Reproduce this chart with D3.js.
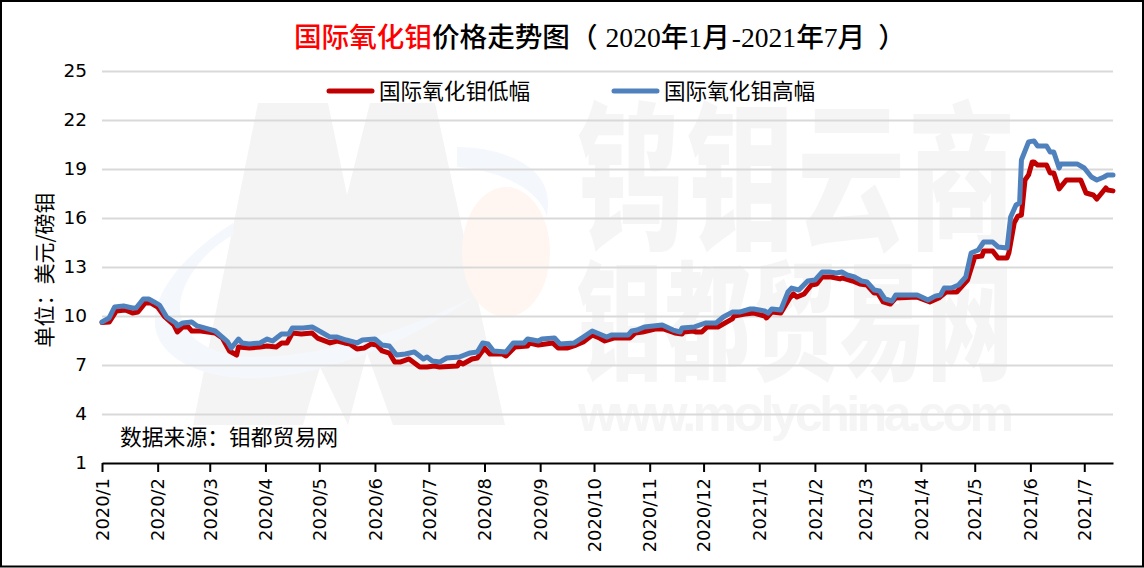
<!DOCTYPE html>
<html><head><meta charset="utf-8">
<style>html,body{margin:0;padding:0;background:#fff;overflow:hidden}svg{display:block}
text{font-family:"Noto Sans CJK SC",sans-serif}</style>
<script src="https://cdn.jsdelivr.net/npm/d3@7"></script>
</head><body><svg id="c" width="1144" height="568"></svg>
<script>
const yTicks=[1,4,7,10,13,16,19,22,25];
const titleRed="国际氧化钼";
const titleRest=["价格走势图（","2020","年","1","月","-","2021","年","7","月","）"];
const lowName="国际氧化钼低幅", highName="国际氧化钼高幅";
const startDate=new Date(2020,0,1), endDate=new Date(2021,6,17);
// days since 2020-01-01 and US$/lb readings
const lowDays=[0,4,8,13,17,20,24,27,31,35,40,42,45,48,50,55,63,67,71,75,76,82,88,92,97,100,103,106,111,117,120,127,131,135,138,142,146,150,153,156,160,163,166,171,177,181,185,188,198,199,201,206,209,213,216,223,225,230,237,238,243,251,254,259,264,268,273,277,280,285,294,297,301,308,313,319,323,324,329,331,334,337,343,351,352,358,363,369,370,373,378,383,385,387,391,395,398,401,406,411,412,418,422,426,430,432,435,439,442,454,461,466,470,476,482,486,490,491,496,499,504,505,508,510,512,514,516,518,519,521,526,528,530,533,537,545,548,552,554,559,560,563];
const lowValues=[9.60,9.63,10.31,10.37,10.18,10.24,10.80,10.80,10.55,9.94,9.45,9.02,9.33,9.33,9.08,9.08,8.96,8.65,7.86,7.61,8.10,8.04,8.10,8.16,8.10,8.35,8.35,8.96,8.90,8.96,8.65,8.35,8.47,8.35,8.29,7.98,8.04,8.29,8.22,7.86,7.73,7.18,7.18,7.37,6.88,6.88,6.94,6.88,6.94,7.18,7.06,7.37,7.43,8.04,7.67,7.67,7.55,8.10,8.16,8.35,8.22,8.35,8.04,8.04,8.22,8.41,8.84,8.65,8.47,8.65,8.65,8.96,9.02,9.20,9.20,8.96,8.90,9.02,9.08,9.02,9.02,9.33,9.33,9.82,10.0,10.12,10.18,10.0,9.88,10.24,10.18,11.10,11.35,11.16,11.35,11.90,11.96,12.39,12.39,12.27,12.33,12.14,11.96,11.90,11.41,11.41,10.86,10.73,11.10,11.16,10.86,11.10,11.47,11.47,12.20,13.61,13.67,13.98,13.98,13.55,13.55,13.86,15.70,16.12,16.18,18.33,18.64,19.43,19.43,19.24,19.24,18.76,18.76,17.78,18.33,18.33,17.53,17.41,17.16,17.84,17.71,17.66];
const highDays=[0,4,7,12,17,19,23,26,29,32,36,41,42,45,50,53,57,63,67,70,72,76,78,82,88,92,95,100,104,106,112,117,122,127,131,136,142,145,152,156,160,164,169,174,179,181,184,188,192,199,205,209,212,215,218,225,229,235,237,243,245,252,255,263,268,273,277,281,284,293,295,298,302,312,318,322,323,330,336,342,346,351,355,361,363,366,369,371,373,378,382,384,388,393,397,401,405,409,412,415,419,423,426,430,433,436,440,442,454,460,464,467,469,473,477,481,484,488,491,496,499,504,506,509,511,512,516,519,521,526,528,530,533,534,543,547,551,554,558,560,563];
const highValues=[9.63,9.88,10.55,10.61,10.49,10.49,11.04,11.04,10.86,10.67,9.94,9.57,9.39,9.57,9.63,9.39,9.27,9.08,8.71,8.41,8.04,8.59,8.35,8.29,8.35,8.59,8.47,8.90,8.90,9.27,9.27,9.33,9.02,8.71,8.71,8.53,8.35,8.53,8.59,8.22,8.16,7.61,7.67,7.80,7.37,7.49,7.25,7.18,7.43,7.49,7.74,7.80,8.35,8.29,7.86,7.80,8.35,8.35,8.59,8.47,8.59,8.65,8.29,8.35,8.71,9.08,8.90,8.71,8.84,8.84,9.08,9.14,9.33,9.45,9.14,9.02,9.27,9.33,9.57,9.57,9.94,10.24,10.24,10.43,10.43,10.37,10.31,10.18,10.43,10.37,11.47,11.71,11.59,12.14,12.20,12.69,12.69,12.63,12.69,12.51,12.39,12.14,12.08,11.59,11.53,11.04,10.92,11.29,11.29,10.98,11.22,11.29,11.71,11.71,11.90,12.39,13.86,14.04,14.53,14.53,14.23,14.16,16.06,16.80,16.92,19.55,20.66,20.72,20.41,20.41,20.04,20.04,19.06,19.31,19.31,19.06,18.51,18.33,18.51,18.64,18.64];

const RED="#C00000", BLUE="#4F81BD", GRID="#D9D9D9";
const CJK='"Noto Sans CJK SC",sans-serif';
const svg=d3.select("#c");
const x=d3.scaleTime().domain([startDate,endDate]).range([102,1113]);
const y=d3.scaleLinear().domain([1,25]).range([463,71]);

// watermark (behind the grid)
const wm=svg.append("g");
const WM="#F4F4F4";
wm.append("path").attr("fill",WM).attr("d","M193,425L258,103L328,103L347,195L370,103L435,103L505,425L393,425L367,353L348,425L320,367L303,425Z");
wm.append("ellipse").attr("cx",506).attr("cy",252).attr("rx",44).attr("ry",65).attr("fill","#FFF6F2");
wm.append("path").attr("fill","#F4F8FD").attr("d","M233,223C190,250 152,290 155,325C158,360 205,378 250,378C330,378 420,335 473,297C420,325 330,358 250,357C210,356 178,335 180,305C182,280 205,250 233,235Z");
wm.append("path").attr("fill","#F4F8FD").attr("d","M457,147C500,147 550,165 548,205L547,217C540,190 500,170 457,167Z");
function wmText(str,x0,base,w,sy,size,fam,weight){
  wm.append("text").attr("transform",`translate(${x0},${base}) scale(1,${sy})`)
    .attr("textLength",w).attr("lengthAdjust","spacing")
    .attr("font-size",size).attr("font-weight",weight).attr("fill","#F5F5F5").style("font-family",fam).text(str);
}
wmText("钨钼云商",577,237,438,1.5,107,CJK,900);
wmText("钼都贸易网",577,370,436,1.5,86,CJK,900);
wmText("www.molychina.com",578,431,436,1,50,'"Liberation Sans",sans-serif',700);

// grid + y axis
const yAxis=d3.axisLeft(y).tickValues(yTicks).tickSize(-1011).tickPadding(15).tickFormat(d3.format("d"));
const gy=svg.append("g").attr("transform","translate(102,0)").call(yAxis);
gy.select(".domain").remove();
gy.selectAll(".tick line").attr("stroke",d=>d===1?"none":GRID).attr("stroke-width",2);
gy.selectAll(".tick text").attr("fill","#000").attr("font-size",18.5).style("font-family",'"DejaVu Sans",sans-serif');

// x axis
const months=d3.timeMonth.range(startDate,endDate);
const xAxis=d3.axisBottom(x).tickValues(months).tickSize(9).tickSizeOuter(0).tickPadding(6)
  .tickFormat(d=>d.getFullYear()+"/"+(d.getMonth()+1));
const gx=svg.append("g").attr("transform","translate(0,463)").call(xAxis);
gx.select(".domain").attr("stroke","#000").attr("stroke-width",2);
gx.selectAll(".tick line").attr("stroke","#000").attr("stroke-width",2);
gx.selectAll(".tick text").attr("fill","#000").attr("font-size",17.9).style("font-family",'"DejaVu Sans",sans-serif')
  .attr("transform","rotate(-90)").attr("text-anchor","end").attr("x",-15).attr("y",0).attr("dy","0.35em");

// series
function series(days,vals,color){
  const line=d3.line().x(d=>x(d3.timeDay.offset(startDate,d[0]))).y(d=>y(d[1]));
  svg.append("path").datum(days.map((d,i)=>[d,vals[i]])).attr("d",line)
    .attr("fill","none").attr("stroke",color).attr("stroke-width",5).attr("stroke-linejoin","round").attr("stroke-linecap","round");
}
series(lowDays,lowValues,RED);
series(highDays,highValues,BLUE);

// legend
[[329,372,379,RED,lowName],[614,657,664,BLUE,highName]].forEach(l=>{
  svg.append("line").attr("x1",l[0]).attr("x2",l[1]).attr("y1",91).attr("y2",91).attr("stroke",l[3]).attr("stroke-width",5).attr("stroke-linecap","round");
  svg.append("text").attr("x",l[2]).attr("y",99).attr("font-size",21.6).attr("fill","#000").text(l[4]);
});

// title
const t=svg.append("text").attr("x",294).attr("y",47).attr("font-size",27.6);
t.append("tspan").attr("fill","#FF0000").attr("font-weight",500).text(titleRed);
titleRest.forEach((s,i)=>{
  const latin=/^[0-9-]+$/.test(s);
  t.append("tspan").attr("fill","#000").attr("font-weight",500)
   .attr("dx",s==="）"?13:(s==="-"?2:(i===1?8:0)))
   .style("font-family",latin?'"Liberation Serif",serif':CJK).text(s);
});

svg.append("text").attr("transform","translate(52,270) rotate(-90)").attr("text-anchor","middle").attr("font-size",21).attr("fill","#000").text("单位：美元/磅钼");
svg.append("text").attr("x",120).attr("y",445).attr("font-size",21.8).attr("fill","#000").text("数据来源：钼都贸易网");

// frame
svg.append("rect").attr("x",1).attr("y",1).attr("width",1142).attr("height",565.5).attr("fill","none").attr("stroke","#000").attr("stroke-width",2);
</script></body></html>
